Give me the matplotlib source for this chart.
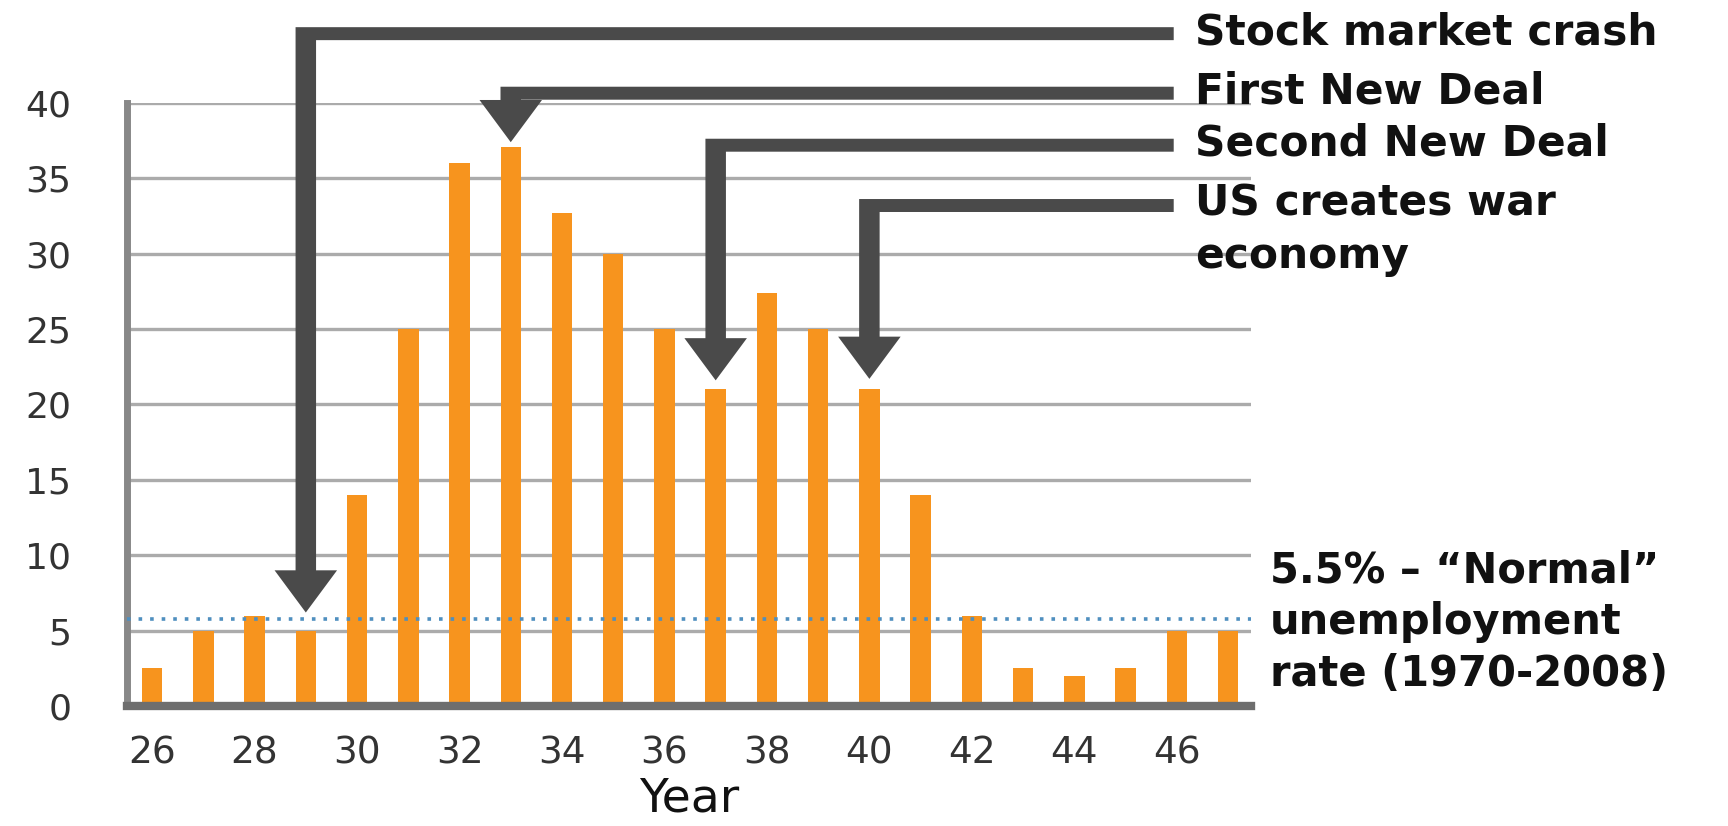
import matplotlib.pyplot as plt
from matplotlib.patches import Polygon

# unemployment rate (%) by year
years = list(range(26, 48))
rates = [2.5, 5, 6, 5, 14, 25, 36, 37.1, 32.7, 30, 25, 21, 27.4, 25, 21, 14, 6, 2.5, 2, 2.5, 5, 5]
year_ticks = list(range(26, 47, 2))
rate_ticks = list(range(0, 41, 5))

normal_line = 5.8  # where the dotted "normal" line sits in the picture

# annotations: label, year pointed at
event_labels = ["Stock market crash", "First New Deal", "Second New Deal", "US creates war\neconomy"]
event_years = [29, 33, 37, 40]

BAR_COLOR = "#F7941E"
ARROW_COLOR = "#4A4A4A"
GRID_COLOR = "#ABABAB"

plt.rcParams["font.family"] = ["DejaVu Sans"]


def draw_arrow(ax, x, level, tip, x_end=45.94):
    """L-shaped arrow: horizontal from the label, then down onto a bar."""
    hw, hh = 0.2, 0.43          # half widths of the shaft (years / %)
    head_w, head_h = 0.61, 2.8  # half width and height of the head
    base = tip + head_h
    pts = [
        (x_end, level + hh), (x - hw, level + hh), (x - hw, base),
        (x - head_w, base), (x, tip), (x + head_w, base),
        (x + hw, base), (x + hw, level - hh), (x_end, level - hh),
    ]
    ax.add_patch(Polygon(pts, closed=True, facecolor=ARROW_COLOR,
                         edgecolor="none", clip_on=False, zorder=5))


def main():
    fig = plt.figure(figsize=(17.28, 8.26), dpi=100)
    ax = fig.add_axes([0.0735, 0.1453, 0.6505, 0.73])

    ax.set_xlim(25.51, 47.45)
    ax.set_ylim(0, 40)

    # gridlines
    for v in rate_ticks[1:]:
        ax.axhline(v, color=GRID_COLOR, lw=2.4, zorder=1)

    ax.bar(years, rates, width=0.4, color=BAR_COLOR, zorder=3)

    ax.axhline(normal_line, color="#4F8FBF", lw=2.6, linestyle=(0, (1, 2.2)), zorder=4)

    # spines
    for side in ["top", "right"]:
        ax.spines[side].set_visible(False)
    ax.spines["left"].set_color("#888888")
    ax.spines["left"].set_linewidth(5)
    ax.spines["bottom"].set_color("#6E6E6E")
    ax.spines["bottom"].set_linewidth(6)
    ax.spines["bottom"].set_zorder(6)

    ax.set_yticks(rate_ticks)
    ax.set_xticks(year_ticks)
    ax.tick_params(axis="y", length=0, pad=40, labelsize=26, labelcolor="#333333")
    ax.tick_params(axis="x", length=0, pad=21, labelsize=27, labelcolor="#333333")
    ax.set_xlabel("Year", fontsize=34, color="#111111", labelpad=4)

    # arrows + labels
    levels = [44.6, 40.65, 37.2, 33.2]
    gaps = [1.2, 0.3, 0.6, 0.7]
    for label, yr, lev, gap in zip(event_labels, event_years, levels, gaps):
        bar_h = rates[years.index(yr)]
        draw_arrow(ax, yr, lev, bar_h + gap)
        ax.text(46.35, lev + 1.5, label, fontsize=30.5, fontweight="bold",
                color="#111111", va="top", ha="left", clip_on=False,
                linespacing=1.3)

    ax.text(47.81, 10.4, "5.5% \u2013 \u201cNormal\u201d\nunemployment\nrate (1970-2008)",
            fontsize=30, fontweight="bold", color="#111111", va="top", ha="left",
            clip_on=False, linespacing=1.3)

    fig.savefig("out.png", dpi=100, facecolor="white")
    plt.close(fig)


if __name__ == "__main__":
    main()
